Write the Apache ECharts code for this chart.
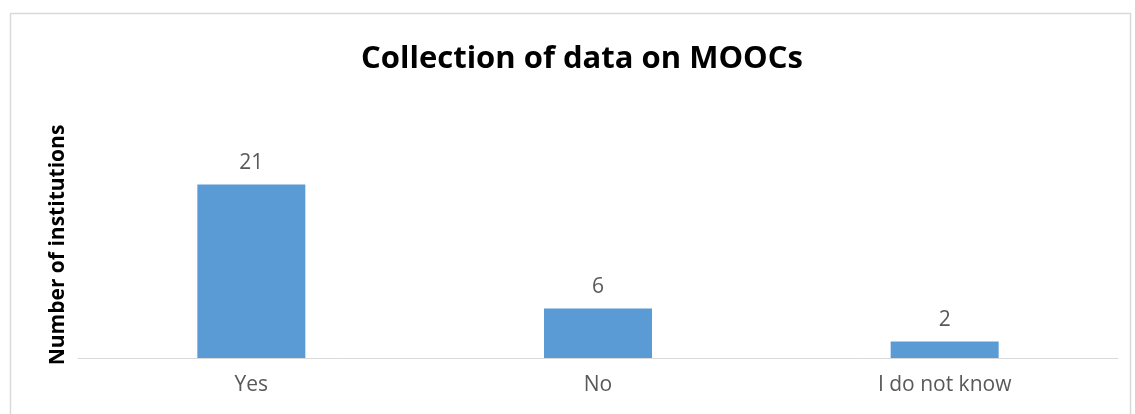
<!DOCTYPE html>
<html><head><meta charset="utf-8">
<script src="https://cdn.jsdelivr.net/npm/echarts@6/dist/echarts.min.js"></script>
<style>html,body{margin:0;padding:0;background:#fff}#c{width:1135px;height:414px}</style>
</head><body><div id="c"></div>
<script>
const categories = ["Yes", "No", "I do not know"];
const values = [21, 6, 2];
const titleText = "Collection of data on MOOCs";
const yAxisName = "Number of institutions";

const chart = echarts.init(document.getElementById('c'), null, {renderer: 'canvas'});
chart.setOption({
  animation: false,
  backgroundColor: '#fff',
  graphic: [{
    type: 'rect', left: 8, top: 11, silent: true,
    shape: {width: 1120, height: 420},
    style: {fill: 'none', stroke: '#d9d9d9', lineWidth: 1.5}
  }],
  title: {
    text: titleText, left: 577, top: 39, textAlign: 'center',
    textStyle: {fontFamily: 'Open Sans', fontWeight: 'bold', fontSize: 31, color: '#000'}
  },
  grid: {left: 78, right: 17, top: 110, bottom: 56, containLabel: false},
  xAxis: {
    type: 'category', data: categories,
    axisLine: {lineStyle: {color: '#d9d9d9', width: 1}},
    axisTick: {show: false},
    axisLabel: {fontFamily: 'Open Sans', fontSize: 21, color: '#595959', margin: 17}
  },
  yAxis: {
    type: 'value', min: 0, max: 30,
    name: yAxisName, nameLocation: 'middle', nameGap: 9, nameRotate: 90,
    nameTextStyle: {fontFamily: 'Open Sans', fontWeight: 'bold', fontSize: 21, color: '#000', padding: [0, 22, 0, 0]},
    axisLine: {show: false}, axisTick: {show: false}, axisLabel: {show: false},
    splitLine: {show: false}
  },
  series: [{
    type: 'bar', data: values, barWidth: 108,
    itemStyle: {color: '#5b9bd5'},
    label: {show: true, position: 'top', distance: 11, fontFamily: 'Open Sans', fontSize: 21, color: '#595959'}
  }]
});
</script></body></html>
